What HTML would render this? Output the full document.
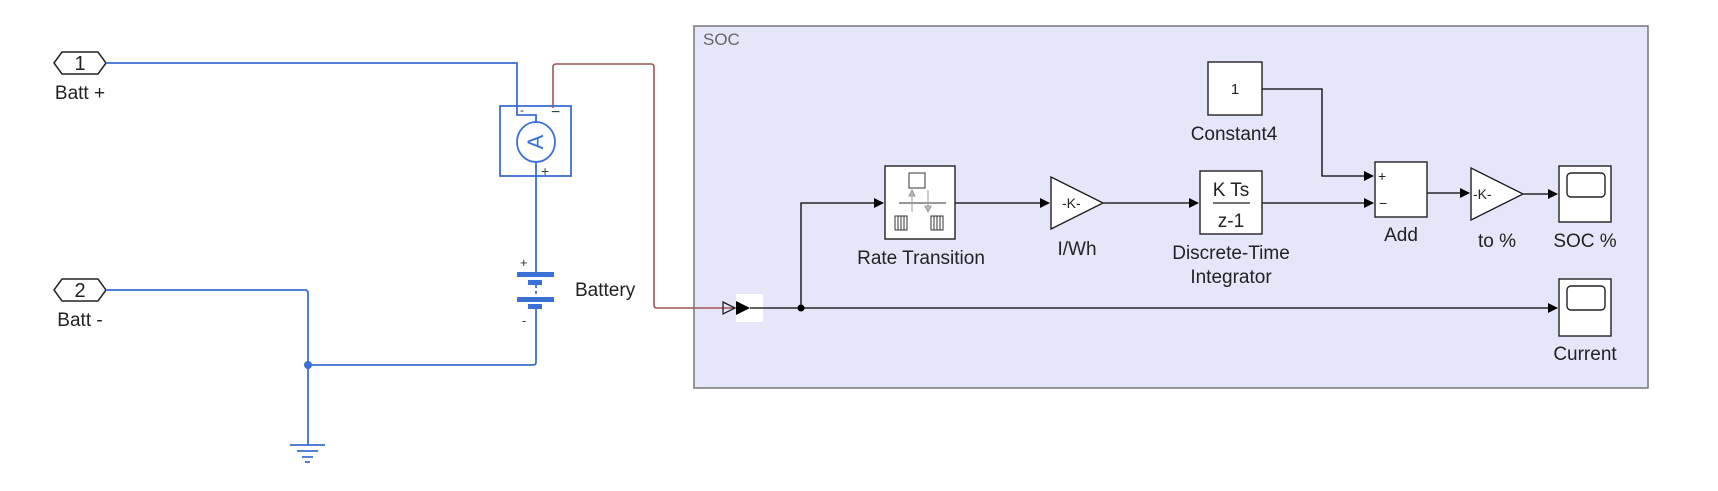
<!DOCTYPE html>
<html><head><meta charset="utf-8"><style>
html,body{margin:0;padding:0;background:#fff;width:1718px;height:491px;overflow:hidden}
text{font-family:"Liberation Sans",sans-serif;fill:#222}
</style></head><body>
<svg width="1718" height="491" viewBox="0 0 1718 491" xmlns="http://www.w3.org/2000/svg">
<defs>
<marker id="ar" markerWidth="10" markerHeight="10" refX="9" refY="5" orient="auto" markerUnits="userSpaceOnUse">
<path d="M0,0 L10,5 L0,10 z" fill="#000"/></marker>
</defs>
<rect x="694" y="26" width="954" height="362" fill="#e6e6fb" stroke="#777" stroke-width="1.5"/>
<text x="703" y="45" font-size="17" style="fill:#666">SOC</text>

<g fill="none" stroke="#3a6fd4" stroke-width="1.8">
<polygon points="54,63 62,52 98,52 106,63 98,74 62,74" fill="#fff" stroke="#222" stroke-width="1.5"/>
<polygon points="54,290 62,279 98,279 106,290 98,301 62,301" fill="#fff" stroke="#222" stroke-width="1.5"/>
<path d="M106,63 H517 V115 H536 V123"/>
<rect x="500" y="106" width="71" height="70"/>
<ellipse cx="536" cy="142" rx="19" ry="20"/>
<path d="M536,162 V273"/>
<path d="M536,308 V362 Q536,365 533,365 H308"/>
<path d="M106,290 H305 Q308,290 308,293 V445"/>
<path d="M536,285 V297" stroke-dasharray="3,3"/>
<path d="M290,445 H325 M297,451 H318 M302,457 H313 M305,462 H310"/>
</g>
<text x="0" y="0" font-size="22" text-anchor="middle" transform="translate(543,142) rotate(-90)" style="fill:#3a6fd4">A</text>
<circle cx="308" cy="365" r="4" fill="#3a6fd4"/>
<g fill="#3a6fd4">
<rect x="517" y="272" width="37" height="5"/>
<rect x="528" y="280" width="14" height="5"/>
<rect x="517" y="297" width="37" height="5"/>
<rect x="528" y="304" width="14" height="5"/>
</g>
<text x="80" y="70" font-size="20" text-anchor="middle">1</text>
<text x="80" y="297" font-size="20" text-anchor="middle">2</text>
<text x="80" y="99" font-size="19" text-anchor="middle">Batt +</text>
<text x="80" y="326" font-size="19" text-anchor="middle">Batt -</text>
<text x="575" y="296" font-size="19">Battery</text>
<text x="520" y="267" font-size="13" style="fill:#333">+</text>
<text x="522" y="325" font-size="13" style="fill:#333">-</text>
<text x="520" y="114" font-size="12" style="fill:#333">-</text>
<text x="551" y="117" font-size="16" style="fill:#2a4a4a">−</text>
<text x="541" y="176" font-size="14" style="fill:#2a4a4a">+</text>
<path d="M553,108 V67 Q553,64 556,64 H651 Q654,64 654,67 V305 Q654,308 657,308 H735" fill="none" stroke="#a05555" stroke-width="1.6"/>

<rect x="736" y="294" width="27" height="28" fill="#fff"/>
<path d="M723,302 L735,308 L723,314 z" fill="none" stroke="#222" stroke-width="1.3"/>
<path d="M736,301 L750,308 L736,315 z" fill="#000"/>

<g fill="none" stroke="#000" stroke-width="1.3">
<path d="M750,308 H1557" marker-end="url(#ar)"/>
<path d="M801,308 V203 H883" marker-end="url(#ar)"/>
<path d="M955,203 H1049" marker-end="url(#ar)"/>
<path d="M1103,203 H1198" marker-end="url(#ar)"/>
<path d="M1262,203 H1373" marker-end="url(#ar)"/>
<path d="M1262,89 H1322 V176 H1373" marker-end="url(#ar)"/>
<path d="M1427,193 H1469" marker-end="url(#ar)"/>
<path d="M1523,194 H1557" marker-end="url(#ar)"/>
</g>
<circle cx="801" cy="308" r="3.5" fill="#000"/>

<g fill="#fff" stroke="#222" stroke-width="1.4">
<rect x="885" y="166" width="70" height="73"/>
<rect x="1200" y="171" width="62" height="63"/>
<rect x="1208" y="62" width="54" height="53"/>
<rect x="1375" y="162" width="52" height="55"/>
<path d="M1051,177 L1103,203 L1051,229 z"/>
<path d="M1471,168 L1523,194 L1471,220 z"/>
<rect x="1559" y="166" width="52" height="56"/>
<rect x="1559" y="279" width="52" height="57"/>
<rect x="1567" y="173" width="38" height="24" rx="4"/>
<rect x="1567" y="286" width="38" height="24" rx="4"/>
</g>
<g stroke="#333" stroke-width="1" fill="none">
<rect x="909" y="173" width="16" height="15"/>
<path d="M899,203 H946"/>
<rect x="895" y="216" width="12" height="14"/>
<rect x="931" y="216" width="12" height="14"/>
<path d="M898,216 V230 M901,216 V230 M904,216 V230 M934,216 V230 M937,216 V230 M940,216 V230"/>
<path d="M912,212 V190 M928,190 V212" stroke="#999"/>
<path d="M909,196 L912,190 L915,196 z M925,206 L928,212 L931,206 z" fill="#bbb" stroke="#999"/>
</g>
<path d="M1213,203 H1250" stroke="#222" stroke-width="1.2"/>
<text x="1231" y="196" font-size="19" text-anchor="middle">K Ts</text>
<text x="1231" y="227" font-size="19" text-anchor="middle">z-1</text>
<text x="1235" y="94" font-size="15" text-anchor="middle">1</text>
<text x="1062" y="208" font-size="14">-K-</text>
<text x="1473" y="199" font-size="14">-K-</text>
<text x="1378" y="181" font-size="14">+</text>
<text x="1379" y="208" font-size="14">−</text>

<g font-size="19" text-anchor="middle">
<text x="921" y="264">Rate Transition</text>
<text x="1077" y="255">I/Wh</text>
<text x="1231" y="259">Discrete-Time</text>
<text x="1231" y="283">Integrator</text>
<text x="1234" y="140">Constant4</text>
<text x="1401" y="241">Add</text>
<text x="1497" y="247">to %</text>
<text x="1585" y="247">SOC %</text>
<text x="1585" y="360">Current</text>
</g>
</svg>
</body></html>
